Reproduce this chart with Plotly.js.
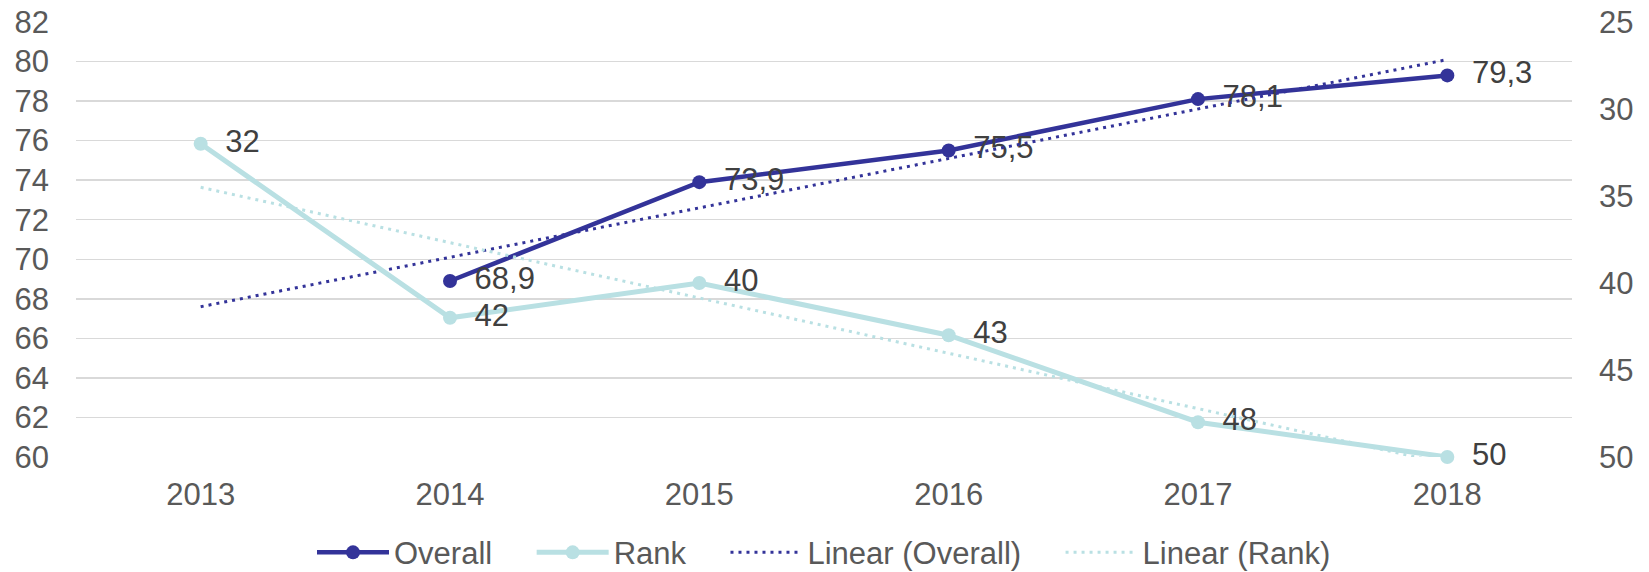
<!DOCTYPE html>
<html>
<head>
<meta charset="utf-8">
<script src="https://cdn.plot.ly/plotly-3.0.1.min.js"></script>
<style>html,body{margin:0;padding:0;background:#fff}#chart{width:1649px;height:572px}</style>
</head>
<body>
<div id="chart"></div>
<script>
// Data
const years = ['2013', '2014', '2015', '2016', '2017', '2018'];
const overall = [null, 68.9, 73.9, 75.5, 78.1, 79.3];
const rank = [32, 42, 40, 43, 48, 50];
const trendYears = ['2013', '2018'];
const trendOverall = [67.6, 80.1];
const trendRank = [34.5, 50.4];
const leftTicks = [60, 62, 64, 66, 68, 70, 72, 74, 76, 78, 80, 82];
const rightTicks = [25, 30, 35, 40, 45, 50];
const seriesNames = ['Overall', 'Rank', 'Linear (Overall)', 'Linear (Rank)'];

const navy = '#333399';
const cyan = '#B9E0E3';
const fontFam = '"Liberation Sans", Arial, sans-serif';
const FS = 31;
const PAD = '\u00A0\u2009';          // gap between point and data label
const GAP = '\u00A0\u00A0\u00A0\u00A0'; // spacing between legend entries
const labelFont = {size: FS, color: '#404040', family: fontFam};

const traces = [
  {
    x: years, y: overall, name: seriesNames[0] + GAP, type: 'scatter', mode: 'lines+markers+text',
    line: {color: navy, width: 4.5}, marker: {color: navy, size: 14},
    text: overall.map(v => v === null ? '' : PAD + v.toFixed(1).replace('.', ',')),
    textposition: 'middle right', textfont: labelFont,
    cliponaxis: false, hoverinfo: 'skip', connectgaps: false
  },
  {
    x: years, y: rank, name: seriesNames[1] + GAP, type: 'scatter', mode: 'lines+markers+text', yaxis: 'y2',
    line: {color: cyan, width: 5}, marker: {color: cyan, size: 14},
    text: rank.map(v => PAD + String(v)),
    textposition: 'middle right', textfont: labelFont,
    cliponaxis: false, hoverinfo: 'skip'
  },
  {
    x: trendYears, y: trendOverall, name: seriesNames[2] + GAP, type: 'scatter', mode: 'lines',
    line: {color: navy, width: 3, dash: '3px,5px'}, hoverinfo: 'skip'
  },
  {
    x: trendYears, y: trendRank, name: seriesNames[3], type: 'scatter', mode: 'lines', yaxis: 'y2',
    line: {color: cyan, width: 3, dash: '3px,5px'}, hoverinfo: 'skip'
  }
];

const layout = {
  width: 1649, height: 572,
  margin: {l: 76, r: 77, t: 22, b: 115, autoexpand: false},
  paper_bgcolor: '#ffffff', plot_bgcolor: '#ffffff',
  font: {family: fontFam, size: FS, color: '#595959'},
  showlegend: true,
  legend: {
    orientation: 'h', x: 0.5, xanchor: 'center', y: -0.22, yanchor: 'middle',
    font: {size: FS, color: '#595959', family: fontFam}, itemwidth: 72,
    bgcolor: 'rgba(0,0,0,0)'
  },
  xaxis: {
    type: 'category', categoryarray: years, range: [-0.5, 5.5],
    showgrid: false, zeroline: false, showline: false, ticks: '',
    tickfont: {size: FS, color: '#595959'}, ticklabelstandoff: 16, fixedrange: true
  },
  yaxis: {
    range: [60, 82], tickvals: leftTicks, ticktext: leftTicks.map(String),
    showgrid: true, gridcolor: '#D9D9D9', gridwidth: 1.5, zeroline: false, showline: false, ticks: '',
    tickfont: {size: FS, color: '#595959'}, ticklabelstandoff: 26, fixedrange: true
  },
  yaxis2: {
    overlaying: 'y', side: 'right', range: [50, 25], tickvals: rightTicks, ticktext: rightTicks.map(String),
    showgrid: false, zeroline: false, showline: false, ticks: '',
    tickfont: {size: FS, color: '#595959'}, ticklabelstandoff: 26, fixedrange: true
  },
  hovermode: false
};

Plotly.newPlot('chart', traces, layout, {staticPlot: true, displayModeBar: false});
</script>
</body>
</html>
